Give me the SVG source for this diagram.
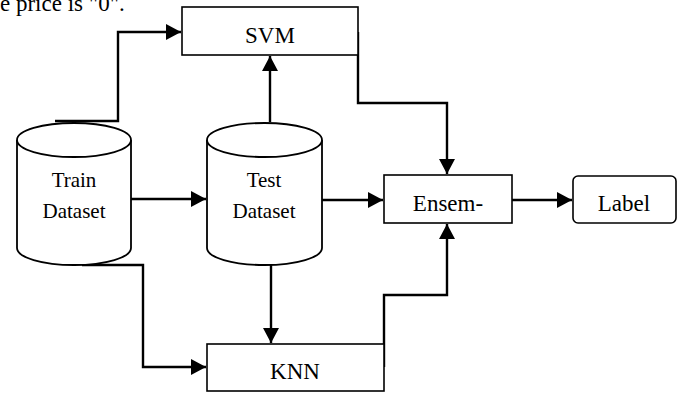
<svg xmlns="http://www.w3.org/2000/svg" width="681" height="394" viewBox="0 0 681 394">
  <style>
    .box { fill: #fff; stroke: #000; stroke-width: 1.6; }
    .cyl { fill: #fff; stroke: #000; stroke-width: 1.8; }
    .lbl { font-family: "Liberation Serif", "DejaVu Serif", serif; font-size: 23px; fill: #000; text-anchor: middle; }
    .sm { font-size: 21px; }
    .wire { fill: none; stroke: #000; stroke-width: 2.4; stroke-linejoin: miter; }
  </style>
  <defs>
    <marker id="arrow" markerUnits="userSpaceOnUse" markerWidth="16" markerHeight="16" viewBox="0 0 16 16" refX="15" refY="8" orient="auto">
      <path d="M0,0 L15,8 L0,16 Z" fill="#000"/>
    </marker>
  </defs>
  <rect width="681" height="394" fill="#fff"/>

  <text class="lbl" x="0" y="11" style="text-anchor:start">e price is "0".</text>

  <g id="connectors">
    <!-- Train -> SVM -->
    <path class="wire" d="M55,121 H118 V32 H181" marker-end="url(#arrow)"/>
    <!-- Train -> Test -->
    <path class="wire" d="M131,199 H206" marker-end="url(#arrow)"/>
    <!-- Test -> SVM -->
    <path class="wire" d="M270,122 V56" marker-end="url(#arrow)"/>
    <!-- Train -> KNN -->
    <path class="wire" d="M82,265 H143 V367 H206" marker-end="url(#arrow)"/>
    <!-- Test -> KNN -->
    <path class="wire" d="M271,265 V343" marker-end="url(#arrow)"/>
    <!-- Test -> Ensemble -->
    <path class="wire" d="M322,200 H383" marker-end="url(#arrow)"/>
    <!-- SVM -> Ensemble -->
    <path class="wire" d="M358,32 V103 H447 V174" marker-end="url(#arrow)"/>
    <!-- KNN -> Ensemble -->
    <path class="wire" d="M384,367 V295 H447 V224" marker-end="url(#arrow)"/>
    <!-- Ensemble -> Label -->
    <path class="wire" d="M512,200 H572" marker-end="url(#arrow)"/>
  </g>

  <g id="svm">
    <rect class="box" x="182" y="7" width="176" height="48"/>
    <text class="lbl" x="270" y="43">SVM</text>
  </g>

  <g id="train">
    <path class="cyl" d="M17,140 V248 A57,17 0 0 0 131,248 V140 A57,17 0 0 0 17,140 Z"/>
    <path class="cyl" d="M17,140 A57,17 0 0 0 131,140" fill="none"/>
    <text class="lbl sm" x="74" y="187">Train</text>
    <text class="lbl sm" x="74" y="218">Dataset</text>
  </g>

  <g id="test">
    <path class="cyl" d="M207,140 V248 A57.5,17 0 0 0 322,248 V140 A57.5,17 0 0 0 207,140 Z"/>
    <path class="cyl" d="M207,140 A57.5,17 0 0 0 322,140" fill="none"/>
    <text class="lbl sm" x="264" y="187">Test</text>
    <text class="lbl sm" x="264" y="218">Dataset</text>
  </g>

  <g id="knn">
    <rect class="box" x="207" y="344" width="177" height="47"/>
    <text class="lbl" x="295" y="379">KNN</text>
  </g>

  <g id="ensemble">
    <rect class="box" x="384" y="175" width="128" height="48"/>
    <text class="lbl" x="448" y="211">Ensem-</text>
  </g>

  <g id="label">
    <rect class="box" x="573" y="176" width="103" height="47" rx="5"/>
    <text class="lbl" x="624" y="211">Label</text>
  </g>
</svg>
